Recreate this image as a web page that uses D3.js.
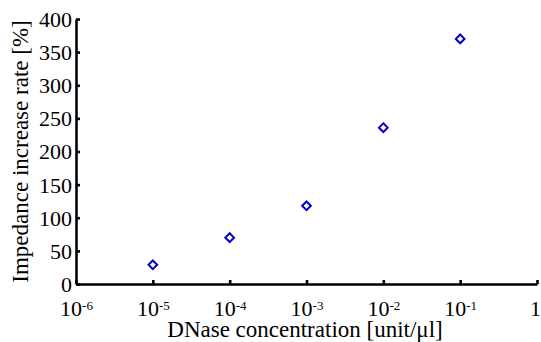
<!DOCTYPE html>
<html>
<head>
<meta charset="utf-8">
<script src="https://cdn.jsdelivr.net/npm/d3@7"></script>
<style>
  body { margin: 0; background: #fff; }
  svg { display: block; }
</style>
</head>
<body>
<div id="chart"></div>
<script>
// data
var concentration = [1e-5, 1e-4, 1e-3, 1e-2, 1e-1];
var increaseRate = [29, 70, 118, 236, 370];
var xTicks = [1e-6, 1e-5, 1e-4, 1e-3, 1e-2, 1e-1, 1];
var yTicks = [0, 50, 100, 150, 200, 250, 300, 350, 400];

var FONT = '"Liberation Serif", "Times New Roman", serif';
var W = 541, H = 342;
var margin = { top: 19, right: 4, bottom: 58, left: 76 };
var width = W - margin.left - margin.right,
    height = H - margin.top - margin.bottom;

var svg = d3.select('#chart').append('svg')
    .attr('width', W)
    .attr('height', H);

var g = svg.append('g')
    .attr('transform', 'translate(' + margin.left + ',' + margin.top + ')');

var x = d3.scaleLog().domain([1e-6, 1]).range([0, width]);
var y = d3.scaleLinear().domain([0, 400]).range([height, 0]);

// y axis, ticks point inward
var yAxis = g.append('g')
    .call(d3.axisLeft(y).tickValues(yTicks).tickSizeInner(-4).tickSizeOuter(0).tickPadding(4)
        .tickFormat(d3.format('d')));
yAxis.selectAll('text').attr('dy', '0.34em');

// x axis, powers of ten with superscripts
var xAxis = g.append('g')
    .attr('transform', 'translate(0,' + height + ')')
    .call(d3.axisBottom(x).tickValues(xTicks).tickSizeInner(-4).tickSizeOuter(0).tickPadding(16)
        .tickFormat(function(d){ return ''; }));
xAxis.selectAll('.tick text')
    .each(function(d){
        var t = d3.select(this);
        var p = Math.round(Math.log10(d));
        if (p === 0) { t.attr('dx', -2).text('1'); return; }
        t.append('tspan').text('10');
        t.append('tspan').attr('dy', -6).style('font-size', '13px').text(p);
    });

svg.selectAll('.domain').attr('stroke', '#000').attr('stroke-width', 2.6);
svg.selectAll('.tick line').attr('stroke', '#000').attr('stroke-width', 2.6);

// markers
var diamond = d3.symbol().type(d3.symbolDiamond2).size(48);
g.selectAll('path.pt')
    .data(concentration)
    .enter()
    .append('path')
      .attr('class', 'pt')
      .attr('d', diamond)
      .attr('transform', function(d, i){ return 'translate(' + x(d) + ',' + y(increaseRate[i]) + ')'; })
      .attr('fill', 'none')
      .attr('stroke', '#0000cc')
      .attr('stroke-width', 2);

// titles
svg.append('text')
    .attr('class', 'title')
    .attr('x', 305)
    .attr('y', 337)
    .attr('text-anchor', 'middle')
    .text('DNase concentration [unit/\u03bcl]');

svg.append('text')
    .attr('class', 'title')
    .attr('transform', 'translate(28,' + (margin.top + height / 2) + ') rotate(-90)')
    .attr('text-anchor', 'middle')
    .text('Impedance increase rate [%]');

svg.selectAll('text')
    .style('font-family', FONT)
    .style('fill', '#000');
svg.selectAll('.tick text').style('font-size', '22px');
svg.selectAll('text.title').style('font-size', '23px');
</script>
</body>
</html>
